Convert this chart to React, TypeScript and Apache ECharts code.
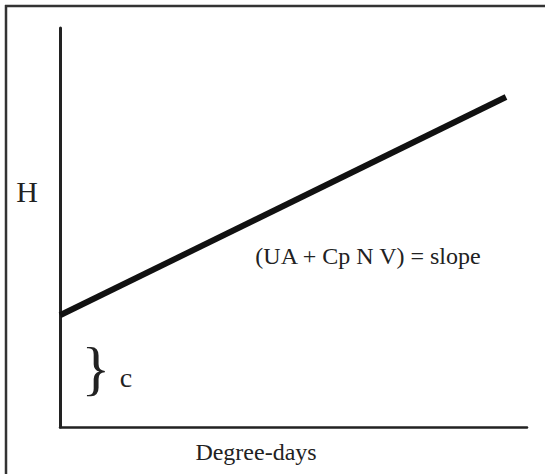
import React, { useEffect, useRef } from "react";
import * as echarts from "echarts";

const degreeDays = [0, 95.5];
const heatLoad = [28, 82.7];
const xAxisTitle = "Degree-days";
const yAxisTitle = "H";
const slopeLabel = "(UA + Cp N V) = slope";
const interceptLabel = "c";

const FONT = "'Liberation Serif', 'DejaVu Serif', serif";

function label(text: string, x: number, y: number, size: number) {
  return {
    type: "text",
    x,
    y,
    z: 10,
    style: {
      text,
      fontFamily: FONT,
      fontSize: size,
      fill: "#222",
      align: "center",
      verticalAlign: "middle",
    },
  };
}

export default function App() {
  const ref = useRef<HTMLDivElement>(null);
  useEffect(() => {
    document.body.style.margin = "0";
    if (!ref.current) return;
    const chart = echarts.init(ref.current, null, { renderer: "svg" });
    chart.setOption({
      animation: false,
      backgroundColor: "#ffffff",
      grid: { left: 60, top: 28, right: 18, bottom: 47 },
      xAxis: {
        type: "value",
        min: 0,
        max: 100,
        axisLine: { show: true, lineStyle: { color: "#222", width: 2.5 } },
        axisTick: { show: false },
        axisLabel: { show: false },
        splitLine: { show: false },
      },
      yAxis: {
        type: "value",
        min: 0,
        max: 100,
        axisLine: { show: true, lineStyle: { color: "#222", width: 3 } },
        axisTick: { show: false },
        axisLabel: { show: false },
        splitLine: { show: false },
      },
      series: [
        {
          type: "line",
          data: degreeDays.map((d, i) => [d, heatLoad[i]]),
          symbol: "none",
          lineStyle: { color: "#111", width: 6, cap: "butt" },
        },
      ],
      graphic: [
        {
          type: "line",
          z: 10,
          shape: { x1: 6, y1: 5, x2: 6, y2: 474 },
          style: { stroke: "#333", lineWidth: 2.5 },
        },
        {
          type: "line",
          z: 10,
          shape: { x1: 5, y1: 6, x2: 545, y2: 6 },
          style: { stroke: "#333", lineWidth: 2.5 },
        },
        label(yAxisTitle, 27, 191, 30),
        label(xAxisTitle, 256, 452, 24),
        label(slopeLabel, 368, 256, 24),
        label("}", 96, 368, 60),
        label(interceptLabel, 126, 377, 28),
      ],
    });
    return () => chart.dispose();
  }, []);
  return <div ref={ref} style={{ width: 545, height: 474 }} />;
}
